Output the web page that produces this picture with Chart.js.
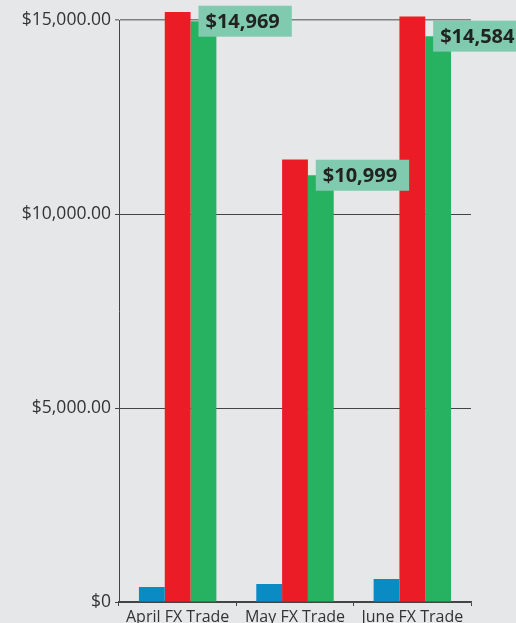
<!DOCTYPE html>
<html>
<head>
<meta charset="utf-8">
<script src="https://cdn.jsdelivr.net/npm/chart.js@4/dist/chart.umd.min.js"></script>
<style>
  html, body { margin: 0; padding: 0; background: #e6e7e9; }
  #wrap { width: 516px; height: 623px; position: relative; }
</style>
</head>
<body>
<div id="wrap"><canvas id="c" width="516" height="623"></canvas></div>
<script>
const categories = ["April FX Trade", "May FX Trade", "June FX Trade"];
const seriesBlue = [387, 464, 593];
const seriesRed = [15206, 11404, 15093];
const seriesGreen = [14969, 10999, 14584];
const greenLabels = ["$14,969", "$10,999", "$14,584"];
const yTicks = [0, 5000, 10000, 15000];
const yTickLabels = ["$0", "$5,000.00", "$10,000.00", "$15,000.00"];

const bgPlugin = {
  id: 'bg',
  beforeDraw(chart) {
    const ctx = chart.ctx;
    ctx.save();
    ctx.fillStyle = '#e6e7e9';
    ctx.fillRect(0, 0, chart.width, chart.height);
    ctx.restore();
  }
};

const labelPlugin = {
  id: 'boxLabels',
  afterDatasetsDraw(chart) {
    const ctx = chart.ctx;
    const meta = chart.getDatasetMeta(2);
    ctx.save();
    ctx.font = 'bold 20px "Open Sans"';
    ctx.textBaseline = 'middle';
    meta.data.forEach((bar, i) => {
      const txt = greenLabels[i];
      const w = ctx.measureText(txt).width;
      const left = bar.x - 5;
      const h = 31;
      const top = bar.y - h / 2;
      ctx.fillStyle = '#80cbb0';
      ctx.fillRect(left, top, w + 19, h);
      ctx.fillStyle = '#222222';
      ctx.textAlign = 'left';
      ctx.fillText(txt, left + 7, bar.y + 1);
    });
    ctx.restore();
  }
};

new Chart(document.getElementById('c'), {
  type: 'bar',
  data: {
    labels: categories,
    datasets: [
      { label: 'Blue', data: seriesBlue, backgroundColor: '#0a8bc4', clip: false },
      { label: 'Red', data: seriesRed, backgroundColor: '#ec1c27', clip: false },
      { label: 'Green', data: seriesGreen, backgroundColor: '#27b261', clip: false }
    ]
  },
  options: {
    responsive: false,
    animation: false,
    devicePixelRatio: 1,
    layout: { padding: { top: 20, right: 45, left: 0, bottom: 0 } },
    datasets: { bar: { categoryPercentage: 0.66, barPercentage: 1.0, borderWidth: 0 } },
    plugins: { legend: { display: false }, tooltip: { enabled: false } },
    scales: {
      x: {
        grid: { offset: true, drawOnChartArea: false, drawTicks: true, tickLength: 4, color: '#444', lineWidth: 1 },
        border: { color: '#444', width: 1.5 },
        ticks: { color: '#333', font: { family: '"Open Sans"', size: 16 }, padding: 2, maxRotation: 0 },
        afterFit(scale) { scale.height = 21; }
      },
      y: {
        min: 0,
        max: 15000,
        afterBuildTicks(scale) { scale.ticks = yTicks.map(v => ({ value: v })); },
        grid: {
          drawTicks: true,
          tickLength: 4,
          color: (c) => c.tick && c.tick.value === 15000 ? '#808080' : '#444',
          lineWidth: (c) => c.tick && c.tick.value === 15000 ? 1.5 : 1
        },
        border: { color: '#444', width: 1 },
        ticks: {
          color: '#333',
          font: { family: '"Open Sans"', size: 17.5 },
          padding: 4,
          callback: (v) => yTickLabels[yTicks.indexOf(v)]
        },
        afterFit(scale) { scale.width = 119; }
      }
    }
  },
  plugins: [bgPlugin, labelPlugin]
});
</script>
</body>
</html>
